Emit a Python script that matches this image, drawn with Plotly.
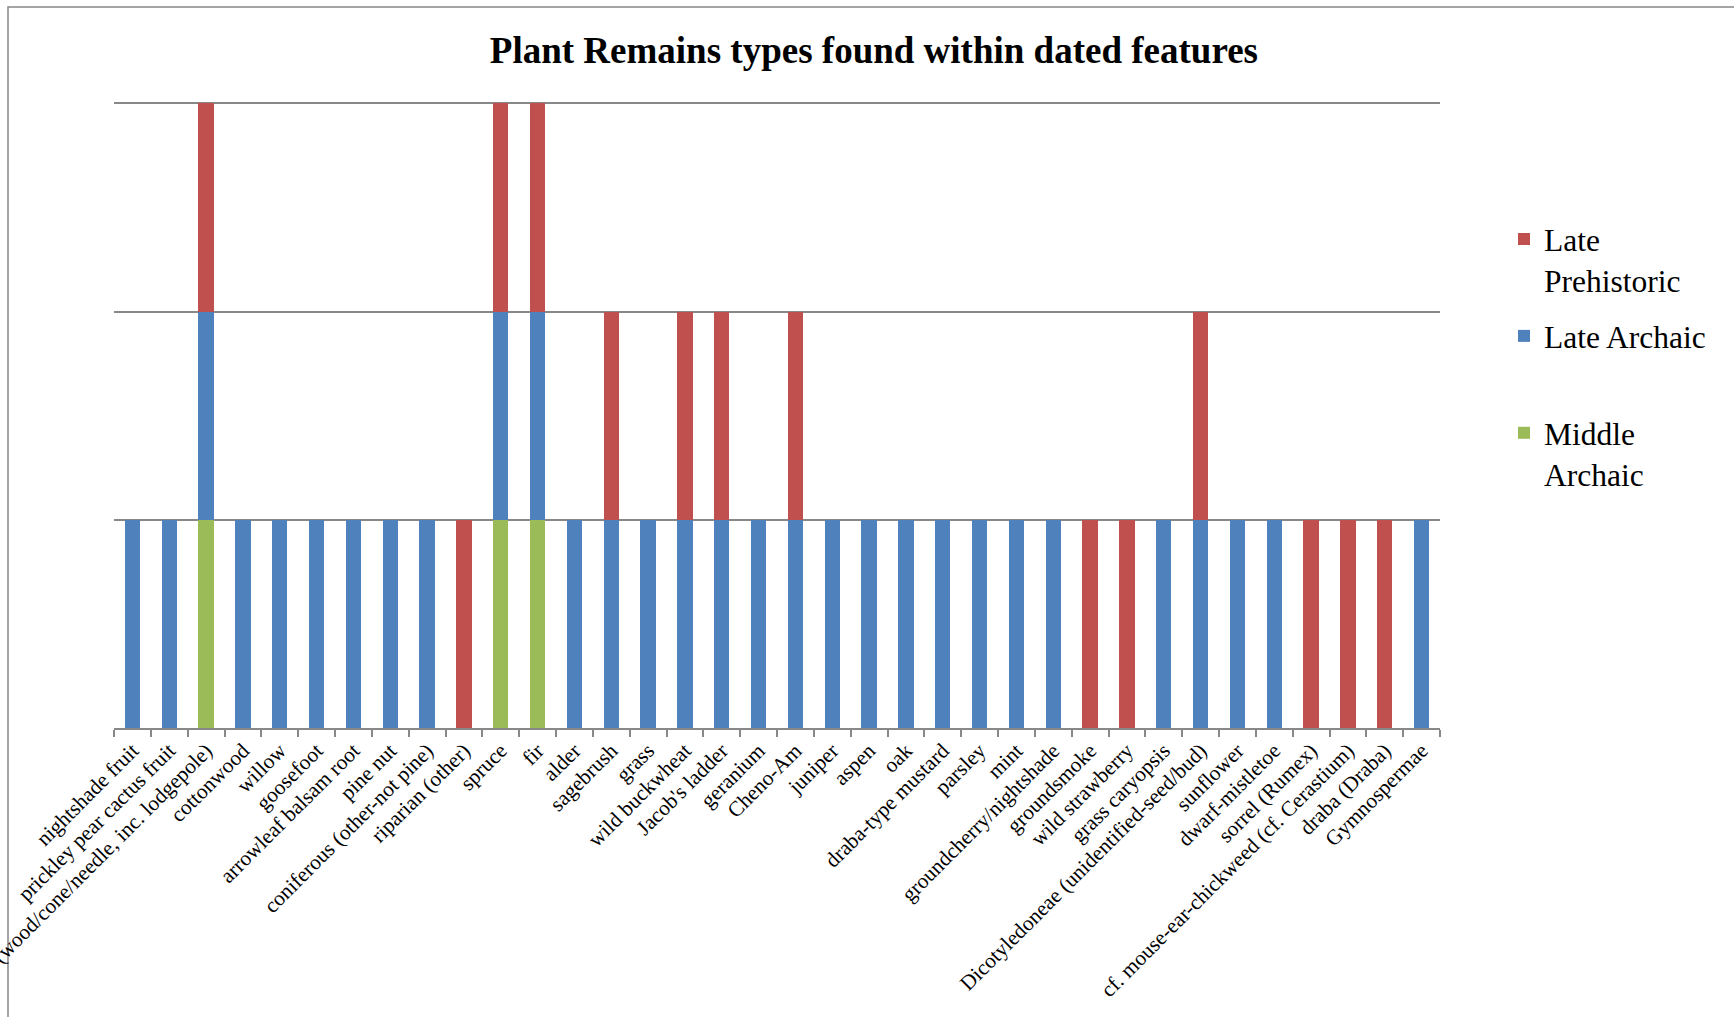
import plotly.graph_objects as go

categories = [
    "nightshade fruit", "prickley pear cactus fruit",
    "pine (wood/cone/needle, inc. lodgepole)", "cottonwood", "willow",
    "goosefoot", "arrowleaf balsam root", "pine nut",
    "coniferous (other-not pine)", "riparian (other)", "spruce", "fir",
    "alder", "sagebrush", "grass", "wild buckwheat", "Jacob's ladder",
    "geranium", "Cheno-Am", "juniper", "aspen", "oak", "draba-type mustard",
    "parsley", "mint", "groundcherry/nightshade", "groundsmoke",
    "wild strawberry", "grass caryopsis",
    "Dicotyledoneae (unidentified-seed/bud)", "sunflower", "dwarf-mistletoe",
    "sorrel (Rumex)", "cf. mouse-ear-chickweed (cf. Cerastium)",
    "draba (Draba)", "Gymnospermae",
]

middle_archaic = [0, 0, 1, 0, 0, 0, 0, 0, 0, 0, 1, 1, 0, 0, 0, 0, 0, 0,
                  0, 0, 0, 0, 0, 0, 0, 0, 0, 0, 0, 0, 0, 0, 0, 0, 0, 0]
late_archaic = [1, 1, 1, 1, 1, 1, 1, 1, 1, 0, 1, 1, 1, 1, 1, 1, 1, 1,
                1, 1, 1, 1, 1, 1, 1, 1, 0, 0, 1, 1, 1, 1, 0, 0, 0, 1]
late_prehistoric = [0, 0, 1, 0, 0, 0, 0, 0, 0, 1, 1, 1, 0, 1, 0, 1, 1, 0,
                    1, 0, 0, 0, 0, 0, 0, 0, 1, 1, 0, 1, 0, 0, 1, 1, 1, 0]

series_names = ["Middle<br>Archaic", "Late Archaic<br> ", "Late<br>Prehistoric"]
series_values = [middle_archaic, late_archaic, late_prehistoric]
series_colors = ["#9BBB59", "#4F81BD", "#C0504D"]
legend_ranks = [3, 2, 1]

W, H = 1734, 1017
ML, MR, MT, MB = 114, 294, 93, 289
PW, PH = W - ML - MR, H - MT - MB

fig = go.Figure()
for i, (name, vals, col) in enumerate(zip(series_names, series_values, series_colors)):
    fig.add_trace(go.Bar(x=categories, y=vals, name=name, legendgroup=f"g{i}",
                         legendrank=legend_ranks[i],
                         marker=dict(color=col, line=dict(width=0))))

def px_x(p):
    return (p - ML) / PW

def px_y(p):
    return (H - MB - p) / PH

fig.update_layout(
    width=W, height=H,
    margin=dict(l=ML, r=MR, t=MT, b=MB, autoexpand=False),
    barmode="stack", bargap=0.58,
    plot_bgcolor="white", paper_bgcolor="white",
    font=dict(family="Liberation Serif, Times New Roman, serif", color="black"),
    title=dict(text="<b>Plant Remains types found within dated features</b>",
               font=dict(size=37, family="Liberation Serif, Times New Roman, serif",
                         color="black"),
               x=0.504, xref="container", xanchor="center",
               y=1 - 50 / H, yref="container", yanchor="middle"),
    xaxis=dict(type="category", tickangle=-45, ticks="outside",
               tickson="boundaries", ticklen=7, tickwidth=1.5,
               tickcolor="#888888", showline=True, linecolor="#888888",
               linewidth=1.5, showgrid=False, automargin=False,
               tickfont=dict(size=21.3, color="black")),
    yaxis=dict(range=[0, 3.05], tickvals=[1, 2, 3], showticklabels=False,
               showgrid=True, gridcolor="#888888", gridwidth=1.5,
               zeroline=False, showline=False, ticks="", automargin=False),
    legend=dict(x=px_x(1504), y=px_y(212), xanchor="left", yanchor="top",
                traceorder="grouped", tracegroupgap=12, valign="top",
                font=dict(size=31.5, color="black"),
                bgcolor="rgba(0,0,0,0)", itemclick=False),
    shapes=[dict(type="rect", xref="paper", yref="paper",
                 x0=px_x(8), x1=px_x(W + 20), y0=px_y(H + 20), y1=px_y(7),
                 line=dict(color="#878787", width=1.5),
                 fillcolor="rgba(0,0,0,0)", layer="below")],
)

fig.write_html("out.html")
